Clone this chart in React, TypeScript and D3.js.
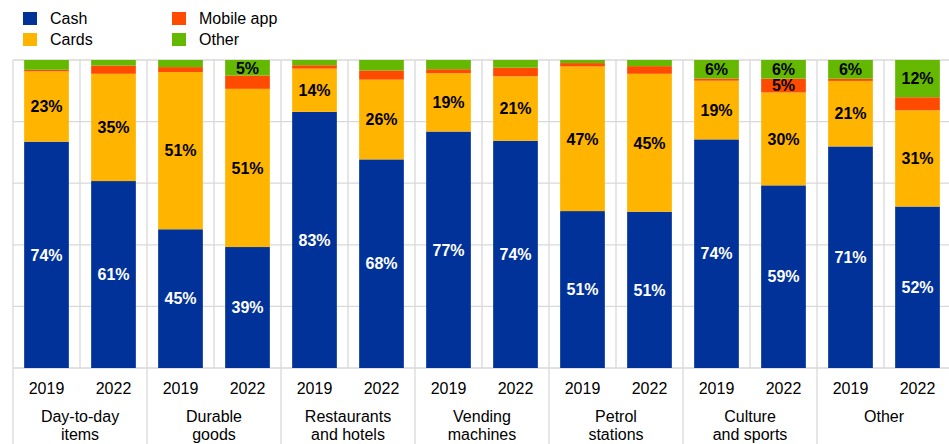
import React, { useEffect } from "react";
import * as d3 from "d3";

const categories = [
  ["Day-to-day", "items"],
  ["Durable", "goods"],
  ["Restaurants", "and hotels"],
  ["Vending", "machines"],
  ["Petrol", "stations"],
  ["Culture", "and sports"],
  ["Other"],
];
const years = ["2019", "2022"];

// one value per bar: categories x years, in order
const cash = [74, 61, 45, 39, 83, 68, 77, 74, 51, 51, 74, 59, 71, 52];
const cards = [23, 35, 51, 51, 14, 26, 19, 21, 47, 45, 19, 30, 21, 31];
const mobile = [0.5, 2.7, 1.6, 4.3, 1.1, 3, 1.3, 2.8, 1.1, 2.5, 0.7, 4.5, 0.7, 4.2];
const other = [3.2, 1.8, 2.3, 5, 1.7, 3.4, 3, 2.5, 1, 2, 6, 6, 6, 12];

const seriesNames = ["Cash", "Cards", "Mobile app", "Other"];
const seriesColors = ["#003299", "#FFB400", "#FF4B00", "#65B800"];
const labelColors = ["#ffffff", "#000000", "#000000", "#000000"];
const yTicks = [0, 0.2, 0.4, 0.6, 0.8, 1];

const W = 949;
const H = 444;
const left = 13;
const right = 951;
const top = 60;
const bottom = 368;
const FONT = "Arial, 'Liberation Sans', sans-serif";

export default function App() {
  useEffect(() => {
    document.body.style.margin = "0";
    document.body.style.overflow = "hidden";
  }, []);

  const keys = ["cash", "cards", "mobile", "other"];
  const rows = cash.map((_, i) => ({
    i,
    cash: cash[i],
    cards: cards[i],
    mobile: mobile[i],
    other: other[i],
  }));
  const stacked = d3.stack<any>().keys(keys).offset(d3.stackOffsetExpand)(rows);
  const raw = [cash, cards, mobile, other];

  const x = d3
    .scaleBand<number>()
    .domain(rows.map((r) => r.i))
    .range([left, right])
    .paddingInner(0.333)
    .paddingOuter(0.1665);
  const step = x.step();
  const y = d3.scaleLinear().domain([0, 1]).range([bottom, top]);

  const groupW = step * 2;

  return (
    <div style={{ position: "fixed", left: 0, top: 0, width: W, height: H, overflow: "hidden" }}>
      <svg width={W} height={H} style={{ display: "block", fontFamily: FONT }}>
        <rect width={W} height={H} fill="#ffffff" />
        {/* horizontal grid */}
        {yTicks.map((t) => (
          <line key={"h" + t} x1={left} x2={right} y1={y(t)} y2={y(t)} stroke="#d9d9d9" strokeWidth={1.3} />
        ))}
        {/* vertical grid between bars */}
        {d3.range(rows.length + 1).map((k) => (
          <line key={"v" + k} x1={left + k * step} x2={left + k * step} y1={top} y2={bottom} stroke="#d9d9d9" strokeWidth={1.3} />
        ))}
        {/* group separators below axis */}
        {d3.range(categories.length + 1).map((k) => (
          <line key={"g" + k} x1={left + k * groupW} x2={left + k * groupW} y1={bottom} y2={H} stroke="#d9d9d9" strokeWidth={1.3} />
        ))}
        {/* bars */}
        {stacked.map((s, si) =>
          s.map((d, i) => (
            <rect
              key={si + "-" + i}
              x={x(i)}
              width={x.bandwidth()}
              y={y(d[1])}
              height={Math.max(0, y(d[0]) - y(d[1]))}
              fill={seriesColors[si]}
            />
          ))
        )}
        {/* labels */}
        {stacked.map((s, si) =>
          s.map((d, i) =>
            raw[si][i] >= 4.5 && !(si === 2 && i !== 11) ? (
              <text
                key={"l" + si + "-" + i}
                x={(x(i) as number) + x.bandwidth() / 2}
                y={(y(d[0]) + y(d[1])) / 2}
                dy="0.36em"
                textAnchor="middle"
                fontSize={16}
                fontWeight="bold"
                fill={labelColors[si]}
              >
                {Math.round(raw[si][i]) + "%"}
              </text>
            ) : null
          )
        )}
        {/* year labels */}
        {rows.map((r) => (
          <text key={"y" + r.i} x={(x(r.i) as number) + x.bandwidth() / 2} y={394} textAnchor="middle" fontSize={16} fill="#000">
            {years[r.i % 2]}
          </text>
        ))}
        {/* category labels */}
        {categories.map((c, k) => (
          <text key={"c" + k} x={left + k * groupW + groupW / 2} y={422} textAnchor="middle" fontSize={16} fill="#000">
            {c.map((line, li) => (
              <tspan key={li} x={left + k * groupW + groupW / 2} dy={li === 0 ? 0 : 18}>
                {line}
              </tspan>
            ))}
          </text>
        ))}
        {/* legend */}
        {seriesNames.map((n, si) => {
          const col = Math.floor(si / 2);
          const row = si % 2;
          const lx = 23 + col * 149;
          const ly = 12 + row * 21;
          return (
            <g key={"lg" + si}>
              <rect x={lx} y={ly} width={14} height={13} fill={seriesColors[si]} />
              <text x={lx + 27} y={ly + 12} fontSize={16} fill="#000">
                {n}
              </text>
            </g>
          );
        })}
      </svg>
    </div>
  );
}
